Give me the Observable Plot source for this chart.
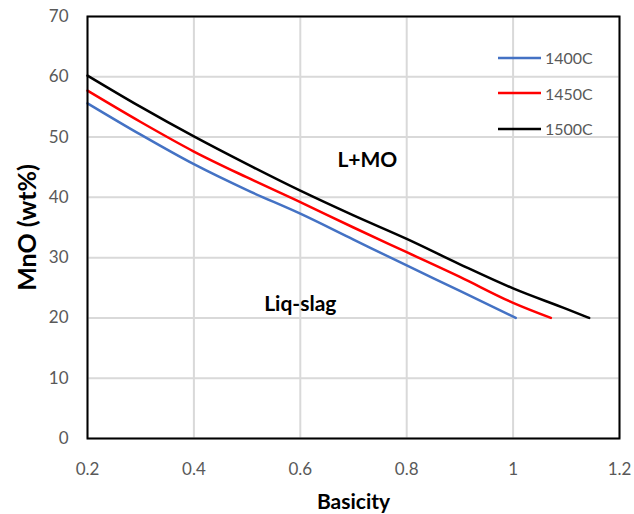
<!DOCTYPE html>
<html>
<head>
<meta charset="utf-8">
<script src="https://cdn.jsdelivr.net/npm/d3@7"></script>
<script src="https://cdn.jsdelivr.net/npm/@observablehq/plot@0.6"></script>
<style>
  html, body { margin: 0; padding: 0; background: #fff; }
  #chart { position: relative; width: 634px; height: 514px; font-family: Lato, "Open Sans", sans-serif; }
  #legend { position: absolute; left: 498px; top: 40px; }
  #legend .item { display: flex; align-items: center; height: 35.5px; }
  #legend .item span { font-size: 16px; color: #595959; margin-left: 4px; }
</style>
</head>
<body>
<div id="chart"></div>
<script>
// Liquidus MnO content vs. slag basicity at three temperatures
const series = ["1400C", "1450C", "1500C"];
const colors = ["#4472C4", "#FF0000", "#000000"];

const basicity1400 = [0.2, 0.3, 0.4, 0.5, 0.6, 0.7, 0.8, 0.9, 1.005];
const mno1400      = [55.6, 50.4, 45.5, 41.2, 37.3, 33.0, 28.7, 24.5, 20.0];

const basicity1450 = [0.2, 0.3, 0.4, 0.5, 0.6, 0.7, 0.8, 0.9, 1.0, 1.071];
const mno1450      = [57.7, 52.5, 47.6, 43.3, 39.2, 35.0, 30.9, 26.8, 22.5, 20.0];

const basicity1500 = [0.2, 0.3, 0.4, 0.5, 0.6, 0.7, 0.8, 0.9, 1.0, 1.1, 1.143];
const mno1500      = [60.2, 55.0, 50.1, 45.5, 41.1, 37.0, 33.1, 28.9, 24.9, 21.5, 20.0];

const xTicks = [0.2, 0.4, 0.6, 0.8, 1.0, 1.2];
const yTicks = [0, 10, 20, 30, 40, 50, 60, 70];

const regionLabels = ["L+MO", "Liq-slag"];
const regionX = [0.726, 0.6];
const regionY = [46.1, 22.2];

const rows = [];
[[basicity1400, mno1400], [basicity1450, mno1450], [basicity1500, mno1500]].forEach(([xs, ys], i) => {
  xs.forEach((x, j) => rows.push({series: series[i], basicity: x, mno: ys[j]}));
});
const regions = regionLabels.map((t, i) => ({text: t, x: regionX[i], y: regionY[i]}));

const plot = Plot.plot({
  width: 634,
  height: 514,
  marginLeft: 87,
  marginRight: 15,
  marginTop: 16,
  marginBottom: 76,
  style: {fontFamily: "Lato, 'Open Sans', sans-serif", background: "#fff"},
  x: {domain: [0.2, 1.2]},
  y: {domain: [0, 70]},
  color: {domain: series, range: colors},
  marks: [
    Plot.gridX(xTicks, {stroke: "#d9d9d9", strokeOpacity: 1, strokeWidth: 2}),
    Plot.gridY(yTicks, {stroke: "#d9d9d9", strokeOpacity: 1, strokeWidth: 2}),
    Plot.axisX(xTicks, {tickSize: 0, tickPadding: 24, fontSize: 17, fill: "#595959", label: null,
      tickFormat: d => String(+d.toFixed(1))}),
    Plot.axisY(yTicks, {tickSize: 0, tickPadding: 19, fontSize: 17, fill: "#595959", label: null}),
    Plot.line(rows, {x: "basicity", y: "mno", z: "series", stroke: "series", strokeWidth: 2.5, curve: "monotone-x"}),
    Plot.text(regions, {x: "x", y: "y", text: "text", fontSize: 21, fontWeight: "bold", fill: "#000"}),
    Plot.frame({stroke: "#000", strokeWidth: 2}),
    Plot.text(["Basicity"], {frameAnchor: "bottom", dy: 70, fontSize: 21, fontWeight: "bold", fill: "#000"}),
    Plot.text(["MnO (wt%)"], {frameAnchor: "left", textAnchor: "middle", dx: -60, rotate: -90, fontSize: 25, fontWeight: "bold", fill: "#000"})
  ]
});

const chart = document.getElementById("chart");
chart.appendChild(plot);

// Legend: short line swatch followed by the series name
const legend = document.createElement("div");
legend.id = "legend";
series.forEach((name, i) => {
  const item = document.createElement("div");
  item.className = "item";
  item.innerHTML = `<svg width="43" height="4"><line x1="0" y1="2" x2="43" y2="2" stroke="${colors[i]}" stroke-width="2.5"/></svg><span>${name}</span>`;
  legend.appendChild(item);
});
chart.appendChild(legend);
</script>
</body>
</html>
